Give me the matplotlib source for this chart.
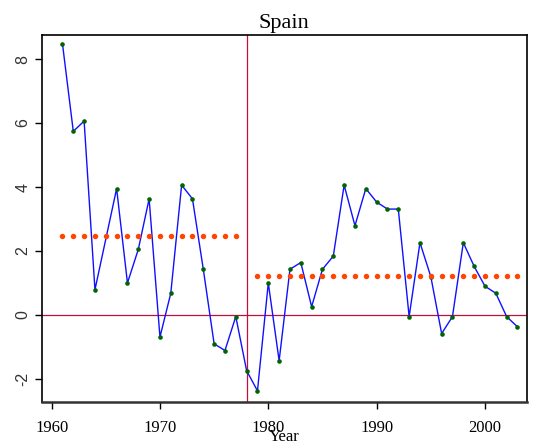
import numpy as np
import matplotlib
matplotlib.use('Agg')
import matplotlib.pyplot as plt

plt.rcParams['font.family'] = ['Liberation Serif', 'DejaVu Serif']
plt.rcParams['axes.unicode_minus'] = False

# growth series (1965 sits on the straight 1964-66 segment, hidden)
years = [1961, 1962, 1963, 1964, 1966, 1967, 1968, 1969, 1970,
         1971, 1972, 1973, 1974, 1975, 1976, 1977, 1978, 1979, 1980,
         1981, 1982, 1983, 1984, 1985, 1986, 1987, 1988, 1989, 1990,
         1991, 1992, 1993, 1994, 1995, 1996, 1997, 1998, 1999, 2000,
         2001, 2002, 2003]
values = [8.48, 5.74, 6.06, 0.79, 3.95, 1.00, 2.05, 3.63, -0.69,
          0.68, 4.06, 3.63, 1.43, -0.90, -1.11, -0.05, -1.74, -2.37, 1.00,
          -1.43, 1.43, 1.64, 0.26, 1.43, 1.84, 4.06, 2.79, 3.95, 3.53,
          3.31, 3.31, -0.05, 2.26, 1.20, -0.58, -0.05, 2.26, 1.52, 0.90,
          0.68, -0.05, -0.37]

# sub-period averages (dotted)
years_pre = list(range(1961, 1978))
mean_pre = 2.47
years_post = list(range(1979, 2004))
mean_post = 1.21
break_year = 1978

xticks = [1960, 1970, 1980, 1990, 2000]
yticks = [-2, 0, 2, 4, 6, 8]

fig = plt.figure(figsize=(5.34, 4.46), dpi=100)
ax = fig.add_axes([0.078, 0.0993, 0.9085, 0.8222])

ax.axhline(0, color='#c0103c', lw=0.9, zorder=1)
ax.axvline(break_year, color='#c0103c', lw=0.9, zorder=1)

ax.plot(years, values, color='#1010ff', lw=1.0, zorder=2)
ax.plot(years, values, 'o', color='#006400', ms=3.3, mec='none', zorder=3)

ax.plot(years_pre, [mean_pre] * len(years_pre), 'o', color='#ff4500',
        ms=3.9, mec='none', zorder=4)
ax.plot(years_post, [mean_post] * len(years_post), 'o', color='#ff4500',
        ms=3.9, mec='none', zorder=4)

ax.set_xlim(1959.08, 2003.86)
ax.set_ylim(-2.71, 8.75)
ax.set_xticks(xticks)
ax.set_xticklabels([str(t) for t in xticks], fontsize=12)
ax.set_yticks(yticks)
ax.set_yticklabels([str(t) for t in yticks], family='Liberation Sans',
                   fontsize=11.5, rotation=90, va='center', color='#333333')
ax.tick_params(direction='out', length=5, width=1)
ax.tick_params(axis='x', pad=8)
ax.tick_params(axis='y', pad=3)
for s in ax.spines.values():
    s.set_linewidth(1.2)
ax.spines['bottom'].set_linewidth(1.8)
ax.spines['bottom'].set_color('#333333')

ax.set_title('Spain', fontsize=16, pad=5)
ax.set_xlabel('Year', fontsize=12, labelpad=-5)

fig.savefig('out.png', dpi=100)
